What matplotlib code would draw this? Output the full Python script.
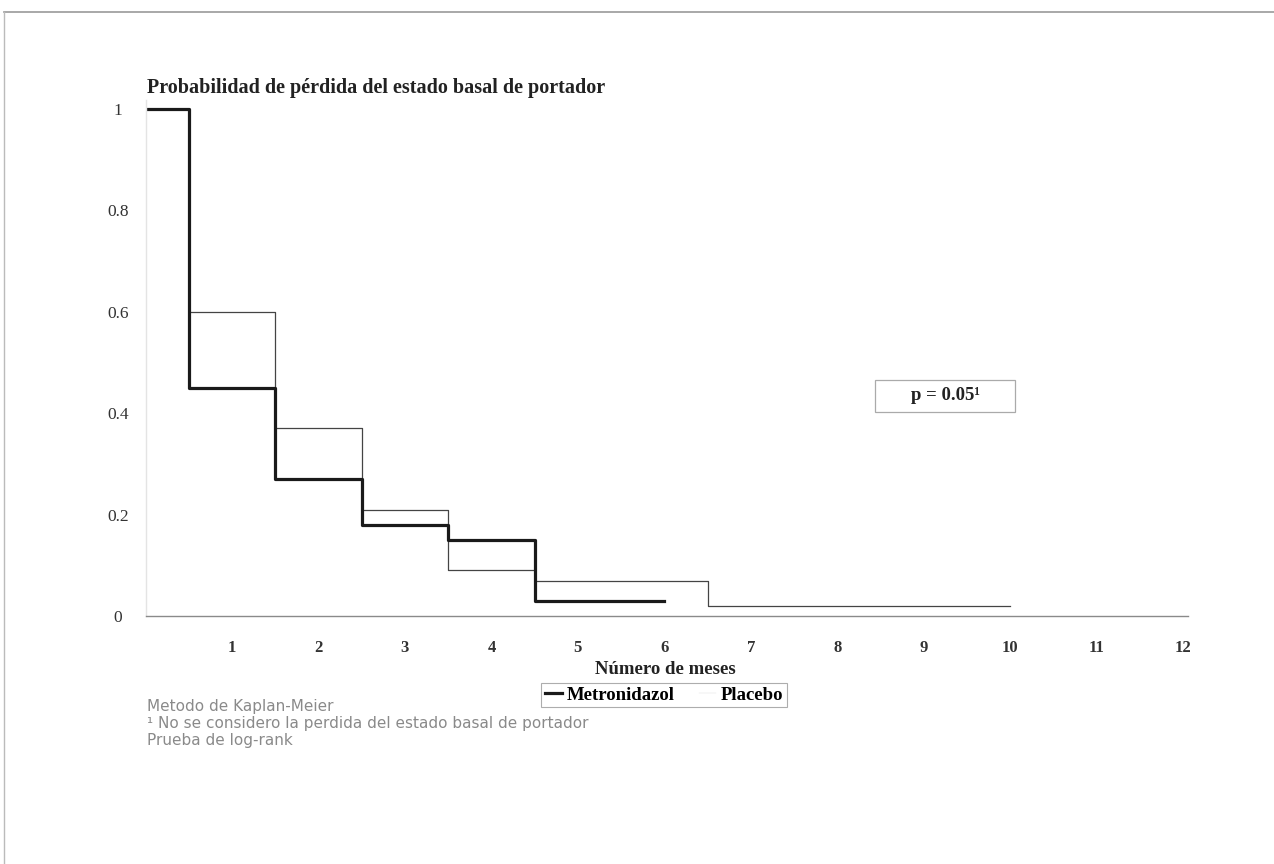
import matplotlib.pyplot as plt
from matplotlib.lines import Line2D
from matplotlib.patches import Rectangle

# Kaplan-Meier step estimates (time in months, probability still carrier)
metro_t = [0, 0.5, 1.5, 2.5, 3.5, 4.5, 6.0]
metro_p = [1.0, 0.45, 0.27, 0.18, 0.15, 0.03, 0.03]
placebo_t = [0, 0.5, 1.5, 2.5, 3.5, 4.5, 6.5, 10.0]
placebo_p = [1.0, 0.60, 0.37, 0.21, 0.09, 0.07, 0.02, 0.02]

x_ticks = list(range(1, 13))
y_ticks = [0, 0.2, 0.4, 0.6, 0.8, 1]
y_ticklabels = ['0', '0.2', '0.4', '0.6', '0.8', '1']

title = 'Probabilidad de pérdida del estado basal de portador'
xlabel = 'Número de meses'
p_text = 'p = 0.05¹'
notes = [
    'Metodo de Kaplan-Meier',
    '¹ No se considero la perdida del estado basal de portador',
    'Prueba de log-rank',
]

SERIF = ['Liberation Serif', 'DejaVu Serif']
W, H = 1274, 864

fig = plt.figure(figsize=(W / 100, H / 100), dpi=100)
fig.patch.set_facecolor('white')

# axes placed so that x=0 sits at px 145.6 and y=0 at px 616
left, right_px, top_px, bottom_px = 145.6, 1188, 100, 616
ax = fig.add_axes([left / W, 1 - bottom_px / H, (right_px - left) / W, (bottom_px - top_px) / H])
ax.set_xlim(0, (right_px - left) / 86.45)
ax.set_ylim(0, (bottom_px - top_px) / 507)

ax.step(placebo_t, placebo_p, where='post', color='#444444', lw=0.9, label='Placebo')
ax.step(metro_t, metro_p, where='post', color='#1a1a1a', lw=2.3, label='Metronidazol')

for s in ('top', 'right'):
    ax.spines[s].set_visible(False)
ax.spines['bottom'].set_color('#8a8a8a')
ax.spines['bottom'].set_linewidth(1.0)
ax.spines['left'].set_color('#e4e4e4')
ax.spines['left'].set_linewidth(1.0)

ax.set_xticks(x_ticks)
ax.set_xticklabels([str(t) for t in x_ticks], fontfamily=SERIF, fontweight='bold',
                   fontsize=12, color='#333333')
ax.set_yticks(y_ticks)
ax.set_yticklabels(y_ticklabels, fontfamily=SERIF, fontsize=12.5, color='#333333', ha='center')
ax.tick_params(axis='x', length=0, pad=17)
ax.tick_params(axis='y', length=0, pad=20)

fig.text(147 / W, 1 - 88 / H, title, fontfamily=SERIF, fontweight='bold', fontsize=14.5,
         color='#222222', ha='left', va='center')
fig.text(665 / W, 1 - 670 / H, xlabel, fontfamily=SERIF, fontweight='bold', fontsize=13.5,
         color='#222222', ha='center', va='center')

# p-value box
ax.add_patch(Rectangle((8.44, 0.402), 1.62, 0.063, fc='white', ec='#aaaaaa', lw=0.9, zorder=3))
ax.text(9.25, 0.434, p_text, fontfamily=SERIF, fontweight='bold', fontsize=13.5,
        color='#222222', ha='center', va='center', zorder=4)

handles = [
    Line2D([], [], color='#1a1a1a', lw=2.3),
    Line2D([], [], color='#dddddd', lw=0.3),
]
leg = fig.legend(handles, ['Metronidazol', 'Placebo'], loc='center',
                 bbox_to_anchor=(664 / W, 1 - 695 / H), ncol=2, frameon=True,
                 fancybox=False, handlelength=0.9, handletextpad=0.25, columnspacing=1.3,
                 borderpad=0.2, prop={'family': SERIF, 'weight': 'bold', 'size': 13.5})
leg.get_frame().set_edgecolor('#999999')
leg.get_frame().set_linewidth(0.8)

for i, line in enumerate(notes):
    fig.text(147 / W, 1 - (706 + 17.5 * i) / H, line, fontfamily='DejaVu Sans', fontsize=11,
             color='#8a8a8a', ha='left', va='center')

# outer frame of the figure panel
fig.add_artist(Line2D([4 / W, 1], [1 - 12 / H, 1 - 12 / H], transform=fig.transFigure,
                      color='#999999', lw=1.2))
fig.add_artist(Line2D([4 / W, 4 / W], [0, 1 - 12 / H], transform=fig.transFigure,
                      color='#bbbbbb', lw=1.0))

fig.savefig('out.png', dpi=100)
